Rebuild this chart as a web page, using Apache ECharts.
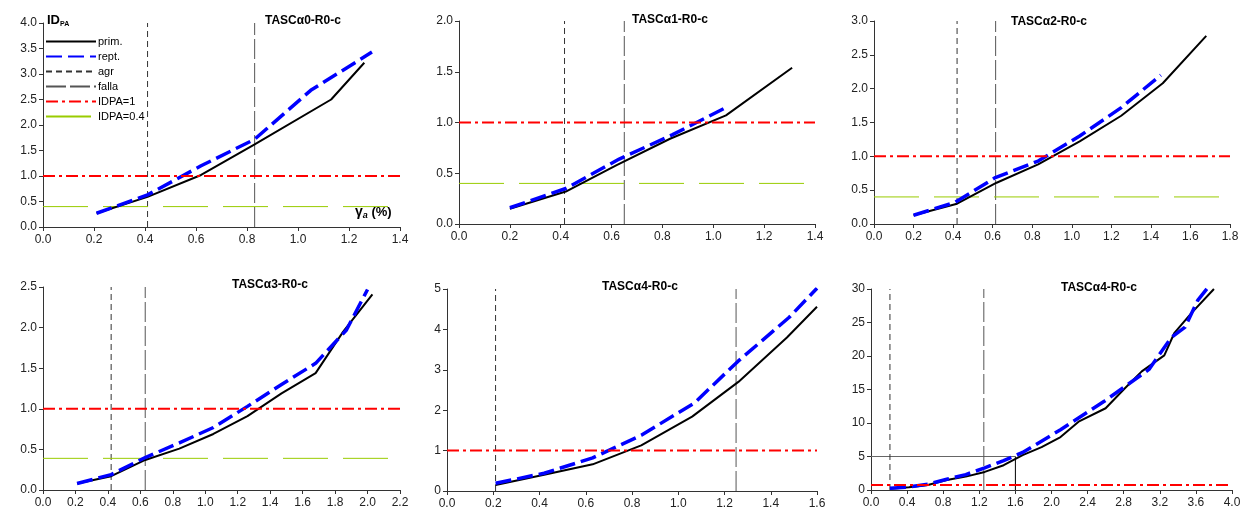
<!DOCTYPE html>
<html>
<head>
<meta charset="utf-8">
<title>IDPA - TASC</title>
<script src="https://cdn.jsdelivr.net/npm/echarts@6/dist/echarts.min.js"></script>
<style>
  html, body { margin: 0; padding: 0; background: #fff; }
  #chart { width: 1244px; height: 518px; }
</style>
</head>
<body>
<div id="chart"></div>
<script>
// ---- datos de cada panel ----
const panelTitles = ["TASCα0-R0-c", "TASCα1-R0-c", "TASCα2-R0-c", "TASCα3-R0-c", "TASCα4-R0-c", "TASCα4-R0-c"];

// escalas de los ejes
const xMax = [1.4, 1.4, 1.8, 2.2, 1.6, 4.0];
const xStep = [0.2, 0.2, 0.2, 0.2, 0.2, 0.4];
const yMax = [4, 2, 3, 2.5, 5, 30];
const yStep = [0.5, 0.5, 0.5, 0.5, 1, 5];
const yDecimals = [1, 1, 1, 1, 0, 0];

// curvas [γa (%), IDPA]
const prim = [
  [[0.21, 0.27], [0.41, 0.59], [0.62, 1.02], [0.83, 1.62], [1.13, 2.5], [1.26, 3.22]],
  [[0.2, 0.15], [0.42, 0.32], [0.62, 0.58], [0.83, 0.84], [1.05, 1.07], [1.31, 1.54]],
  [[0.2, 0.13], [0.42, 0.3], [0.62, 0.61], [0.83, 0.88], [1.04, 1.22], [1.25, 1.6], [1.46, 2.08], [1.68, 2.78]],
  [[0.21, 0.08], [0.42, 0.17], [0.63, 0.37], [0.84, 0.51], [1.05, 0.69], [1.26, 0.91], [1.47, 1.19], [1.68, 1.44], [1.85, 1.95], [2.03, 2.41]],
  [[0.21, 0.15], [0.42, 0.4], [0.63, 0.66], [0.84, 1.13], [1.06, 1.84], [1.26, 2.7], [1.47, 3.8], [1.6, 4.56]],
  [[0.21, 0.2], [0.42, 0.4], [0.63, 0.75], [0.84, 1.5], [1.05, 2.0], [1.26, 2.7], [1.47, 3.7], [1.68, 5.2], [1.89, 6.4], [2.1, 7.9],
   [2.3, 10.2], [2.6, 12.2], [2.8, 15.0], [3.0, 17.7], [3.25, 20.1], [3.36, 23.4], [3.55, 26.4], [3.8, 30]],
];
const rept = [
  [[0.21, 0.27], [0.41, 0.63], [0.62, 1.2], [0.83, 1.72], [1.05, 2.68], [1.29, 3.43]],
  [[0.2, 0.16], [0.42, 0.35], [0.63, 0.64], [0.84, 0.88], [1.06, 1.16]],
  [[0.2, 0.13], [0.41, 0.32], [0.61, 0.68], [0.83, 0.93], [1.04, 1.3], [1.25, 1.72], [1.45, 2.2]],
  [[0.21, 0.08], [0.42, 0.19], [0.63, 0.4], [0.84, 0.58], [1.05, 0.77], [1.26, 1.03], [1.47, 1.3], [1.68, 1.56], [1.87, 1.97], [2.0, 2.47]],
  [[0.21, 0.19], [0.42, 0.44], [0.63, 0.82], [0.84, 1.38], [1.07, 2.18], [1.26, 3.22], [1.48, 4.3], [1.6, 5.02]],
  [[0.21, 0.25], [0.42, 0.45], [0.63, 0.85], [0.84, 1.6], [1.05, 2.3], [1.26, 3.3], [1.47, 4.4], [1.68, 5.6], [2.1, 9.0],
   [2.58, 13.2], [3.08, 18.0], [3.33, 22.8], [3.48, 24.3], [3.62, 28.3], [3.78, 31]],
];

// líneas de referencia
const agrX = [0.41, 0.415, 0.42, 0.42, 0.21, 0.21];
const fallaX = [0.83, 0.65, 0.615, 0.63, 1.25, 1.25];
const idpa1Y = [1, 1, 1, 1, 1, 0.75];
const idpa04Y = [0.4, 0.4, 0.4, 0.39, null, null];
// guía del panel 6 (IDPA = 5)
const guide6Y = 5;
const guide6X = 1.6;

// posiciones de las rejillas
const grids = [
  { left: 43, top: 23, width: 357, height: 204 },
  { left: 459, top: 21, width: 356, height: 203 },
  { left: 874, top: 21, width: 356, height: 203 },
  { left: 43, top: 287, width: 357, height: 203 },
  { left: 447, top: 289, width: 370, height: 202 },
  { left: 871, top: 289, width: 361, height: 201 },
];
const titlePos = [[265, 15], [632, 14], [1011, 16], [232, 279], [602, 281], [1061, 282]];

const FONT = "'Liberation Sans', Arial, sans-serif";

const chart = echarts.init(document.getElementById("chart"));

const xAxes = [];
const yAxes = [];
const series = [];
const titles = [];

const styles = {
  "prim.": { color: "#000", width: 2, type: "solid" },
  "rept.": { color: "#0000ff", width: 3.5, type: [16, 6] },
  agr: { color: "#333", width: 1, type: [6, 4] },
  falla: { color: "#555", width: 1, type: [20, 4] },
  "IDPA=1": { color: "#ff0000", width: 2, type: [12, 4, 3, 4] },
  "IDPA=0.4": { color: "#99cc00", width: 1, type: [45, 15] },
};

function addLine(name, i, data, z) {
  series.push({
    name: name,
    type: "line",
    xAxisIndex: i,
    yAxisIndex: i,
    data: data,
    symbol: "none",
    silent: true,
    z: z,
    color: styles[name].color,
    lineStyle: styles[name],
  });
}

for (let i = 0; i < 6; i++) {
  xAxes.push({
    gridIndex: i,
    type: "value",
    min: 0,
    max: xMax[i],
    interval: xStep[i],
    splitLine: { show: false },
    axisLine: { onZero: false, lineStyle: { color: "#333", width: 1 } },
    axisTick: { length: 4, lineStyle: { color: "#333" } },
    axisLabel: {
      formatter: (v) => v.toFixed(1),
      fontFamily: FONT,
      fontSize: 12,
      color: "#222",
      margin: 7,
    },
  });
  yAxes.push({
    gridIndex: i,
    type: "value",
    min: 0,
    max: yMax[i],
    interval: yStep[i],
    splitLine: { show: false },
    axisLine: { show: true, lineStyle: { color: "#333", width: 1 } },
    axisTick: { show: true, length: 4, lineStyle: { color: "#333" } },
    axisLabel: {
      formatter: (v) => v.toFixed(yDecimals[i]),
      fontFamily: FONT,
      fontSize: 12,
      color: "#222",
      margin: 6,
    },
  });

  titles.push({
    text: panelTitles[i],
    left: titlePos[i][0],
    top: titlePos[i][1],
    padding: 0,
    textStyle: { fontFamily: FONT, fontSize: 12, fontWeight: "bold", color: "#000" },
  });

  // verticales agr / falla
  addLine("agr", i, [[agrX[i], 0], [agrX[i], yMax[i]]], 2);
  addLine("falla", i, [[fallaX[i], 0], [fallaX[i], yMax[i]]], 2);
  if (idpa04Y[i] !== null) {
    addLine("IDPA=0.4", i, [[0, idpa04Y[i]], [xMax[i], idpa04Y[i]]], 2);
  }
  addLine("prim.", i, prim[i], 3);
  addLine("rept.", i, rept[i], 4);
  addLine("IDPA=1", i, [[0, idpa1Y[i]], [xMax[i], idpa1Y[i]]], 5);
}

// guía del último panel
series.push({
  type: "line", xAxisIndex: 5, yAxisIndex: 5, symbol: "none", silent: true, z: 1,
  data: [[0, guide6Y], [guide6X, guide6Y]],
  lineStyle: { color: "#666", width: 1 },
});
series.push({
  type: "line", xAxisIndex: 5, yAxisIndex: 5, symbol: "none", silent: true, z: 1,
  data: [[guide6X, 0], [guide6X, guide6Y]],
  lineStyle: { color: "#000", width: 1 },
});

// etiquetas de ejes del primer panel
titles.push({
  text: "{a|ID}{b|PA}",
  left: 47,
  top: 13,
  padding: 0,
  textStyle: {
    rich: {
      a: { fontFamily: FONT, fontSize: 13, fontWeight: "bold", color: "#000" },
      b: { fontFamily: FONT, fontSize: 7, fontWeight: "bold", color: "#000", padding: [8, 0, 0, 0] },
    },
  },
});
titles.push({
  text: "{g|γ}{s|a}{p| (%)}",
  left: 355,
  top: 205,
  padding: 0,
  textStyle: {
    rich: {
      g: { fontFamily: FONT, fontSize: 14, fontWeight: "bold", color: "#000" },
      s: { fontFamily: FONT, fontSize: 9, fontStyle: "italic", fontWeight: "bold", color: "#000", padding: [6, 0, 0, 0] },
      p: { fontFamily: FONT, fontSize: 13, fontWeight: "bold", color: "#000" },
    },
  },
});

const option = {
  animation: false,
  backgroundColor: "#fff",
  title: titles,
  legend: {
    data: ["prim.", "rept.", "agr", "falla", "IDPA=1", "IDPA=0.4"],
    orient: "vertical",
    left: 45,
    top: 36,
    padding: 0,
    itemWidth: 50,
    itemHeight: 10,
    itemGap: 4,
    selectedMode: false,
    itemStyle: { opacity: 0 },
    textStyle: { fontFamily: FONT, fontSize: 11, color: "#000", padding: [0, 0, 0, -3] },
  },
  grid: grids,
  xAxis: xAxes,
  yAxis: yAxes,
  series: series,
};

chart.setOption(option);
</script>
</body>
</html>
